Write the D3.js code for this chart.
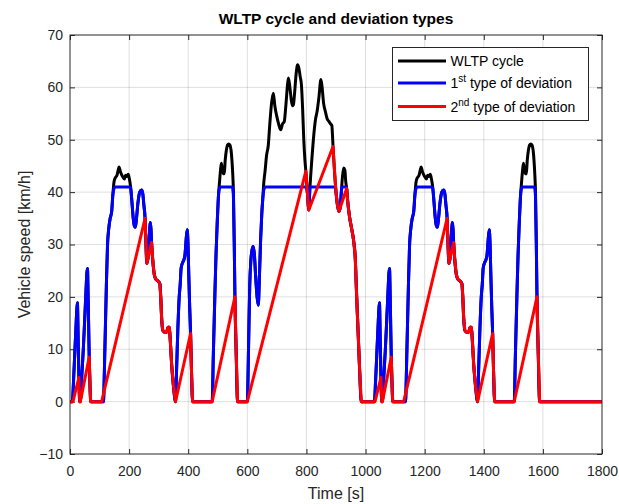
<!DOCTYPE html>
<html>
<head>
<meta charset="utf-8">
<script src="https://cdn.jsdelivr.net/npm/d3@7"></script>
<style>
  body { margin: 0; background: #fff; }
  svg { font-family: "Liberation Sans", Arial, Helvetica, sans-serif; }
</style>
</head>
<body>
<svg id="chart" width="619" height="504"></svg>
<script>
// values (time in s, speed in km/h)
var wltpTime = [0,8,12,16,20,23,25,27.5,30,33,35,40,45,50,54,57,59,62,65,68,70,113,118,123,127,131,136,141,145,149,154,159,163,166,170,175,180,184,188,192,197,201,205,209,214,218,221,225,230,236,242,246,250,254,257,260,264,268,272,274,276,280,285,290,298,304,307,310,314,321,327,332,336,339,344,350,357,360,365,369.5,373,376,380,386,389,393,396.6,399,402,405,408,411,414.7,481,485,490,494,498,502,506,509,512,515,519,522,525,529,533,537,541,545,548,551,553,556,558,562,567,
  600,604,608,612,616,620,624,628,633,637,641,645,649,652,656,660,665,671,676,682,688,693,699.5,706,713,719,725,731,736,739,744,749,753,756,760,765,770,775,779,783,787,791,795,798,803,808,812,818,825,831,836,842,849,853,858,864,870,876,882,886,888,890,895,900,905,910,914,918,922,926,930,933,936,940,946,953,959.5,965,970,975,980,985.4,
  1030,1034,1038,1042,1045,1047,1049.5,1052,1055,1057,1062,1067,1072,1076,1079,1081,1084,1087,1090,1092,1135,1140,1145,1149,1153,1158,1163,1167,1171,1176,1181,1185,1188,1192,1197,1202,1206,1210,1214,1219,1223,1227,1231,1236,1240,1243,1247,1252,1258,1264,1268,1272,1276,1279,1282,1286,1290,1294,1296,1298,1302,1307,1312,1320,1326,1329,1332,1336,1343,1349,1354,1358,1361,1366,1372,1379,1382,1387,1391.5,1395,1398,1402,1408,1411,1415,1418.6,1421,1424,1427,1430,1433,1436.7,1503,1507,1512,1516,1520,1524,1528,1531,1534,1537,1541,1544,1547,1551,1555,1559,1563,1567,1570,1573,1575,1578,1580,1584,1589,1800];
var wltpSpeed = [0,0,4,9,14,17.5,18.9,12.5,4.6,0,0,5,10,16,21,24.5,25.4,18,8.5,2.5,0,0,10,22,30,33,35,36.3,39.5,42,42.8,43.2,44.2,44.8,44,43.3,42.8,42.5,43.2,43,43.4,42.5,41,38.5,35,33.5,33.3,35,38,40,40.4,39.8,37.5,35,30,26.4,27.5,31.5,34.2,33,30.4,27,24.3,23.4,23,22.5,20,16,13.6,13.2,13.3,14.2,14.2,12,7,3,0,5,14,20,22.5,25.5,26.4,27.2,28,31,32.8,30.5,24,18,13,6,0,0,9,20,28,34,39,42,44,45.5,44.5,43.5,43.5,46,48,49,49.2,49,48,46,43,40,29,20,10,0,
  0,10,22,27,29,29.6,28,24,20,18.4,24,31,36,38.5,42,44,47,49,53,57,58.9,56.5,54.5,53,51.9,53,53.5,57,60.5,61.8,60,57.5,56.5,56.7,59,62.5,64.3,63.5,62,60.5,56,50,46,44,40,36.6,41,46,51,54,55.4,58,61.5,60,57,55.4,54,53.5,53,52.7,51,48.7,44,40,37.5,36.3,37,40,43,44.6,44.2,42,40.7,38,35.2,33,30.8,27.6,20,13,6,0,
  0,4,9,14,17.5,18.9,12.5,4.6,0,0,5,10,16,21,24.5,25.4,18,8.5,2.5,0,0,10,22,30,33,35,36.3,39.5,42,42.8,43.2,44.2,44.8,44,43.3,42.8,42.5,43.2,43,43.4,42.5,41,38.5,35,33.5,33.3,35,38,40,40.4,39.8,37.5,35,30,26.4,27.5,31.5,34.2,33,30.4,27,24.3,23.4,23,22.5,20,16,13.6,13.2,13.3,14.2,14.2,12,7,3,0,5,14,20,22.5,25.5,26.4,27.2,28,31,32.8,30.5,24,18,13,6,0,0,9,20,28,34,39,42,44,45.5,44.5,43.5,43.5,46,48,49,49.2,49,48,46,43,40,29,20,10,0,0];

var dev1Time = [0,8,12,16,20,23,25,27.5,30,33,35,40,45,50,54,57,59,62,65,68,70,113,118,123,127,131,136,141,145,148,151,154,202,205,207,209,214,218,221,225,230,236,242,246,250,254,257,260,264,268,272,274,276,280,285,290,298,304,307,310,314,321,327,332,336,339,344,350,357,360,365,369.5,373,376,380,386,389,393,396.6,399,402,405,408,411,414.7,481,485,490,494,498,501,504,507,510,549,551,553,556,558,562,567,
  600,604,608,612,616,620,624,628,633,637,641,645,649,652,655,658,662,798,801,803,808,812,898,900,905,910,914,918,920,934,936,940,946,953,959.5,965,970,975,980,985.4,
  1030,1034,1038,1042,1045,1047,1049.5,1052,1055,1057,1062,1067,1072,1076,1079,1081,1084,1087,1090,1092,1135,1140,1145,1149,1153,1158,1163,1167,1170,1173,1176,1224,1227,1229,1231,1236,1240,1243,1247,1252,1258,1264,1268,1272,1276,1279,1282,1286,1290,1294,1296,1298,1302,1307,1312,1320,1326,1329,1332,1336,1343,1349,1354,1358,1361,1366,1372,1379,1382,1387,1391.5,1395,1398,1402,1408,1411,1415,1418.6,1421,1424,1427,1430,1433,1436.7,1503,1507,1512,1516,1520,1523,1526,1529,1532,1571,1573,1575,1578,1580,1584,1589,1800];
var dev1Speed = [0,0,4,9,14,17.5,18.9,12.5,4.6,0,0,5,10,16,21,24.5,25.4,18,8.5,2.5,0,0,10,22,30,33,35,36.3,39.5,40.5,40.9,41,41,40.8,40,38.5,35,33.5,33.3,35,38,40,40.4,39.8,37.5,35,30,26.4,27.5,31.5,34.2,33,30.4,27,24.3,23.4,23,22.5,20,16,13.6,13.2,13.3,14.2,14.2,12,7,3,0,5,14,20,22.5,25.5,26.4,27.2,28,31,32.8,30.5,24,18,13,6,0,0,9,20,28,34,38,40.3,40.9,41,41,40.5,39,29,20,10,0,
  0,10,22,27,29,29.6,28,24,20,18.4,24,31,36,38.5,40.2,40.8,41,41,40.6,40,36.6,41,41,40,37.5,36.3,37,40,41,41,40.7,38,35.2,33,30.8,27.6,20,13,6,0,
  0,4,9,14,17.5,18.9,12.5,4.6,0,0,5,10,16,21,24.5,25.4,18,8.5,2.5,0,0,10,22,30,33,35,36.3,39.5,40.5,40.9,41,41,40.8,40,38.5,35,33.5,33.3,35,38,40,40.4,39.8,37.5,35,30,26.4,27.5,31.5,34.2,33,30.4,27,24.3,23.4,23,22.5,20,16,13.6,13.2,13.3,14.2,14.2,12,7,3,0,5,14,20,22.5,25.5,26.4,27.2,28,31,32.8,30.5,24,18,13,6,0,0,9,20,28,34,38,40.3,40.9,41,41,40.5,39,29,20,10,0,0];

var dev2Time = [0,10,30,33,35,65,68,70,107,254,257,260,276,280,285,290,298,304,307,310,314,321,327,332,336,339,344,350,357,408,411,414.7,481,558,562,567,
  600,798,803,808,890,895,900,905,910,936,940,946,953,959.5,965,970,975,980,985.4,
  1032,1052,1055,1057,1087,1090,1092,1129,1276,1279,1282,1298,1302,1307,1312,1320,1326,1329,1332,1336,1343,1349,1354,1358,1361,1366,1372,1379,1430,1433,1436.7,1503,1580,1584,1589,1800];
var dev2Speed = [0,0,4.6,0,0,8.5,2.5,0,0,35,30,26.4,30.4,27,24.3,23.4,23,22.5,20,16,13.6,13.2,13.3,14.2,14.2,12,7,3,0,13,6,0,0,20,10,0,
  0,44,40,36.6,48.7,44,40,37.5,36.3,40.7,38,35.2,33,30.8,27.6,20,13,6,0,
  0,4.6,0,0,8.5,2.5,0,0,35,30,26.4,30.4,27,24.3,23.4,23,22.5,20,16,13.6,13.2,13.3,14.2,14.2,12,7,3,0,13,6,0,0,20,10,0,0];

var xTicks = [0,200,400,600,800,1000,1200,1400,1600,1800];
var yTicks = [-10,0,10,20,30,40,50,60,70];

var seriesNames = ["WLTP cycle", "1st type of deviation", "2nd type of deviation"];
var seriesColors = ["#000000", "#0000ff", "#ff0000"];

var svg = d3.select("#chart"),
    margin = { top: 35, right: 17, bottom: 50, left: 70 },
    iwidth = +svg.attr("width") - margin.left - margin.right,
    iheight = +svg.attr("height") - margin.top - margin.bottom,
    g = svg.append("g").attr("transform", "translate(" + margin.left + "," + margin.top + ")");

var axisColor = "#262626";

var x = d3.scaleLinear().domain([0, 1800]).range([0, iwidth]);
var y = d3.scaleLinear().domain([-10, 70]).range([iheight, 0]);

// grid
g.append("g").selectAll("line").data(xTicks.slice(1, -1)).enter().append("line")
  .attr("x1", d => x(d)).attr("x2", d => x(d))
  .attr("y1", 0).attr("y2", iheight)
  .attr("stroke", axisColor).attr("stroke-opacity", 0.15);
g.append("g").selectAll("line").data(yTicks.slice(1, -1)).enter().append("line")
  .attr("x1", 0).attr("x2", iwidth)
  .attr("y1", d => y(d)).attr("y2", d => y(d))
  .attr("stroke", axisColor).attr("stroke-opacity", 0.15);

// axes, ticks pointing inward
function styleAxis(sel) {
  sel.select(".domain").remove();
  sel.selectAll("line").attr("stroke", axisColor);
  sel.selectAll("text").attr("fill", axisColor).style("font-size", "14px");
}
g.append("g")
  .attr("transform", "translate(0," + iheight + ")")
  .call(d3.axisBottom(x).tickValues(xTicks).tickSizeInner(-5).tickSizeOuter(0).tickPadding(12)
    .tickFormat(d => String(d)))
  .call(styleAxis);
g.append("g")
  .call(d3.axisTop(x).tickValues(xTicks).tickSizeInner(-5).tickSizeOuter(0).tickFormat(""))
  .call(styleAxis);
g.append("g")
  .call(d3.axisLeft(y).tickValues(yTicks).tickSizeInner(-5).tickSizeOuter(0).tickPadding(7)
    .tickFormat(d => d < 0 ? "\u2212" + Math.abs(d) : String(d)))
  .call(styleAxis);
g.append("g")
  .attr("transform", "translate(" + iwidth + ",0)")
  .call(d3.axisRight(y).tickValues(yTicks).tickSizeInner(-5).tickSizeOuter(0).tickFormat(""))
  .call(styleAxis);

// lines
var series = [
  { time: wltpTime, speed: wltpSpeed, curve: d3.curveMonotoneX },
  { time: dev1Time, speed: dev1Speed, curve: d3.curveMonotoneX },
  { time: dev2Time, speed: dev2Speed, curve: d3.curveLinear }
];
var plot = g.append("g");
series.forEach(function (s, i) {
  var pts = s.time.map((t, k) => [t, s.speed[k]]);
  var line = d3.line().x(d => x(d[0])).y(d => y(d[1])).curve(s.curve);
  plot.append("path")
    .datum(pts)
    .attr("fill", "none")
    .attr("stroke", seriesColors[i])
    .attr("stroke-width", 3)
    .attr("stroke-linejoin", "round")
    .attr("d", line);
});

// box
g.append("rect")
  .attr("x", 0).attr("y", 0).attr("width", iwidth).attr("height", iheight)
  .attr("fill", "none").attr("stroke", axisColor).attr("stroke-width", 1);

// labels
svg.append("text")
  .attr("x", margin.left + iwidth / 2).attr("y", 24)
  .attr("text-anchor", "middle")
  .style("font-size", "15.5px").style("font-weight", "bold")
  .attr("fill", "#000")
  .text("WLTP cycle and deviation types");

svg.append("text")
  .attr("x", margin.left + iwidth / 2).attr("y", 499)
  .attr("text-anchor", "middle")
  .style("font-size", "16px")
  .attr("fill", axisColor)
  .text("Time [s]");

svg.append("text")
  .attr("transform", "translate(30," + (margin.top + iheight / 2) + ") rotate(-90)")
  .attr("text-anchor", "middle")
  .style("font-size", "16px")
  .attr("fill", axisColor)
  .text("Vehicle speed [km/h]");

// legend
var legend = svg.append("g").attr("transform", "translate(392.5,47.5)");
legend.append("rect")
  .attr("width", 196).attr("height", 73)
  .attr("fill", "#fff").attr("stroke", axisColor).attr("stroke-width", 1);
var rowsY = [13.5, 35.5, 59];
seriesNames.forEach(function (name, i) {
  legend.append("line")
    .attr("x1", 5.5).attr("x2", 53.5)
    .attr("y1", rowsY[i]).attr("y2", rowsY[i])
    .attr("stroke", seriesColors[i]).attr("stroke-width", 3);
  var t = legend.append("text")
    .attr("x", 58).attr("y", rowsY[i] + 5)
    .style("font-size", "14px")
    .attr("fill", "#000");
  if (i === 0) {
    t.text(name);
  } else {
    var sup = i === 1 ? "st" : "nd";
    t.append("tspan").text(String(i));
    t.append("tspan").attr("dy", -6).style("font-size", "10px").text(sup);
    t.append("tspan").attr("dy", 6).text(" type of deviation");
  }
});
</script>
</body>
</html>
